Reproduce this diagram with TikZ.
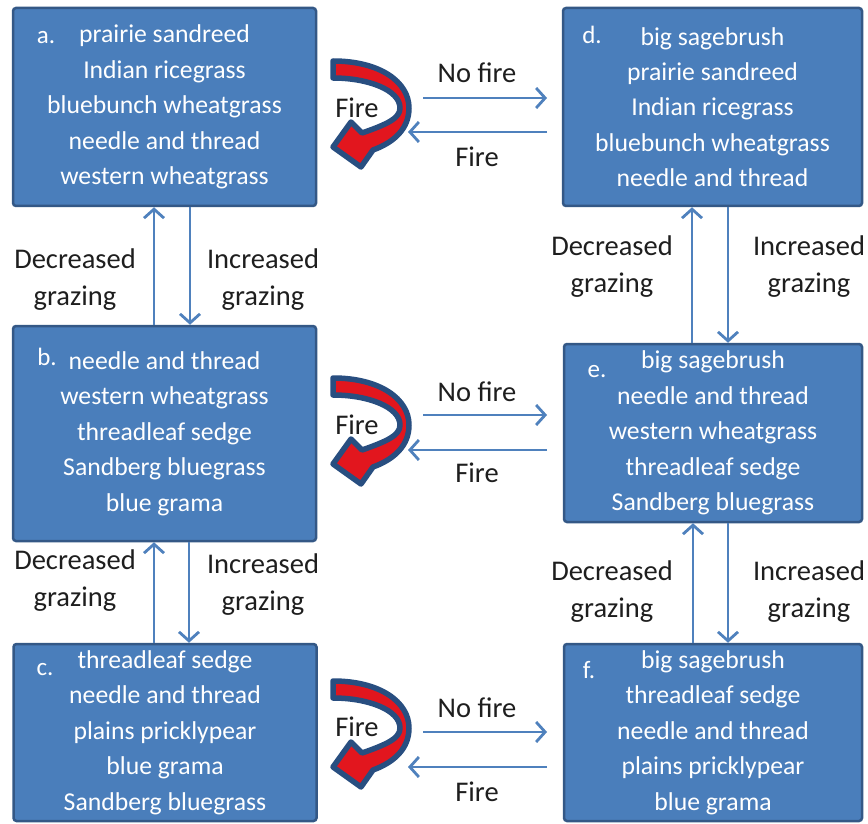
\documentclass[tikz,border=0pt]{standalone}
\usepackage{fontspec}
\setmainfont{Carlito}
\usetikzlibrary{arrows.meta}

\definecolor{boxfill}{RGB}{74,126,187}
\definecolor{boxedge}{RGB}{52,88,134}
\definecolor{linkblue}{RGB}{79,129,189}
\definecolor{firered}{RGB}{226,22,30}
\definecolor{firerim}{RGB}{40,78,128}
\definecolor{labeltext}{RGB}{30,30,30}

% curved "Fire" loop arrow; the argument shifts it down the page
\newcommand\fireloop[1]{%
  \begin{scope}[shift={(0,#1)}]
    \path[firearrow] (333,61) .. controls (380,61) and (409,82) .. (409,108)
      .. controls (409,128) and (395,142) .. (373,150)
      -- (361,167) -- (333,147) -- (351,122) -- (362,133)
      .. controls (388,124) and (400,118) .. (400,108)
      .. controls (400,90) and (368,78) .. (333,78) -- cycle;
  \end{scope}}

\begin{document}
\begin{tikzpicture}[x=1pt,y=-1pt,
  state/.style={draw=boxedge, line width=2.5pt, fill=boxfill, rounded corners=3pt,
    text=white, align=center, inner sep=0pt,
    font=\fontsize{25.7}{35.4}\selectfont},
  tag/.style={text=white, inner sep=0pt, font=\fontsize{25}{30}\selectfont},
  lbl/.style={text=labeltext, align=center, inner sep=0pt,
    font=\fontsize{28.5}{37}\selectfont},
  link/.style={draw=linkblue, line width=2.8pt, -{Straight Barb[length=9pt,width=20pt]}},
  firearrow/.style={fill=firered, draw=firerim, line width=5.5pt, line join=round}
]
\useasboundingbox[fill=white] (0,0) rectangle (868,824);

% ---- states ----
\node[state, minimum width=303pt, minimum height=198pt] (a) at (164.5,107)
  {prairie sandreed\\Indian ricegrass\\bluebunch wheatgrass\\needle and thread\\western wheatgrass};
\node[state, minimum width=303pt, minimum height=215pt] (b) at (164.5,433.5)
  {needle and thread\\western wheatgrass\\threadleaf sedge\\Sandberg bluegrass\\blue grama};
\node[state, minimum width=303pt, minimum height=177pt] (c) at (165,732.5)
  {threadleaf sedge\\needle and thread\\plains pricklypear\\blue grama\\Sandberg bluegrass};
\node[state, minimum width=299pt, minimum height=198pt] (d) at (712.5,107)
  {big sagebrush\\prairie sandreed\\Indian ricegrass\\bluebunch wheatgrass\\needle and thread};
\node[state, minimum width=298pt, minimum height=178pt] (e) at (713,433)
  {big sagebrush\\needle and thread\\western wheatgrass\\threadleaf sedge\\Sandberg bluegrass};
\node[state, minimum width=298pt, minimum height=177pt] (f) at (713,732.5)
  {big sagebrush\\threadleaf sedge\\needle and thread\\plains pricklypear\\blue grama};

% ---- state letters ----
\node[tag] (ta) at (46,38) {a.};
\node[tag] (tb) at (47,357) {b.};
\node[tag] (tc) at (45,670) {c.};
\node[tag] (td) at (592,35) {d.};
\node[tag] (te) at (597,372) {e.};
\node[tag] (tf) at (589,670) {f.};

% ---- grazing transitions ----
\coordinate (abup) at (154,0);  \coordinate (abdn) at (190,0);
\coordinate (bcup) at (154,0);  \coordinate (bcdn) at (189,0);
\coordinate (deup) at (692,0);  \coordinate (dedn) at (728,0);
\coordinate (efup) at (693,0);  \coordinate (efdn) at (728,0);

\draw[link] (b.north -| abup) -- (a.south -| abup);
\draw[link] (a.south -| abdn) -- (b.north -| abdn);
\draw[link] (c.north -| bcup) -- (b.south -| bcup);
\draw[link] (b.south -| bcdn) -- (c.north -| bcdn);
\draw[link] (e.north -| deup) -- (d.south -| deup);
\draw[link] (d.south -| dedn) -- (e.north -| dedn);
\draw[link] (f.north -| efup) -- (e.south -| efup);
\draw[link] (e.south -| efdn) -- (f.north -| efdn);

\node[lbl] (dg1) at (75,280) {Decreased\\grazing};
\node[lbl] (ig1) at (263,280) {Increased\\grazing};
\node[lbl] (dg2) at (75,581) {Decreased\\grazing};
\node[lbl] (ig2) at (263,585) {Increased\\grazing};
\node[lbl] (dg3) at (612,267) {Decreased\\grazing};
\node[lbl] (ig3) at (809,267) {Increased\\grazing};
\node[lbl] (dg4) at (612,592) {Decreased\\grazing};
\node[lbl] (ig4) at (809,592) {Increased\\grazing};

% ---- fire transitions ----
\fireloop{0}
\fireloop{317}
\fireloop{620}

\node[lbl] (lf1) at (357,108) {Fire};
\node[lbl] (lf2) at (357,425) {Fire};
\node[lbl] (lf3) at (357,727) {Fire};

\coordinate (nf1s) at (423,98);  \coordinate (nf1e) at (547,98);
\coordinate (fb1s) at (547,132); \coordinate (fb1e) at (408,132);
\coordinate (nf2s) at (423,415); \coordinate (nf2e) at (547,415);
\coordinate (fb2s) at (547,450); \coordinate (fb2e) at (408,450);
\coordinate (nf3s) at (423,732); \coordinate (nf3e) at (547,732);
\coordinate (fb3s) at (547,767); \coordinate (fb3e) at (408,767);

\draw[link] (nf1s) -- (nf1e);
\draw[link] (fb1s) -- (fb1e);
\draw[link] (nf2s) -- (nf2e);
\draw[link] (fb2s) -- (fb2e);
\draw[link] (nf3s) -- (nf3e);
\draw[link] (fb3s) -- (fb3e);

\node[lbl] (nl1) at (477,73) {No fire};
\node[lbl] (fl1) at (477,157) {Fire};
\node[lbl] (nl2) at (477,392) {No fire};
\node[lbl] (fl2) at (477,473) {Fire};
\node[lbl] (nl3) at (477,708) {No fire};
\node[lbl] (fl3) at (477,792) {Fire};
\end{tikzpicture}
\end{document}
